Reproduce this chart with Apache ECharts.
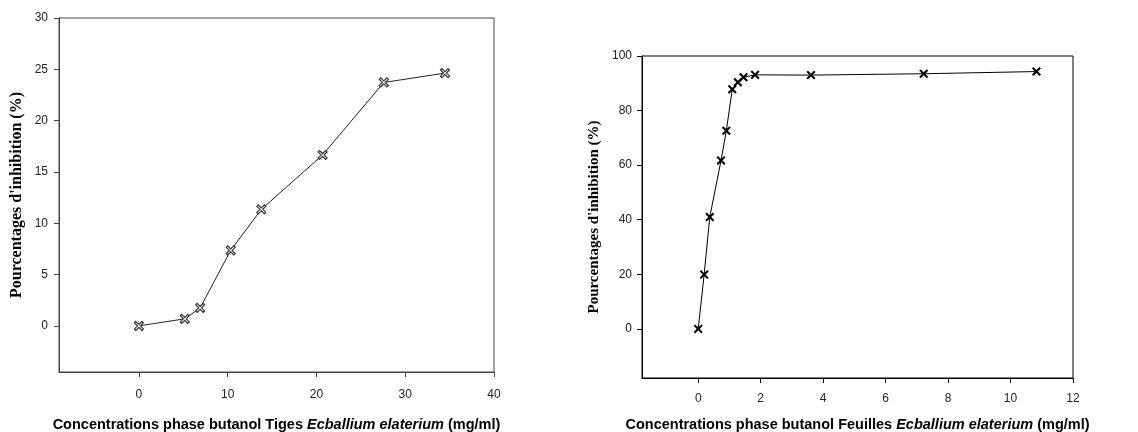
<!DOCTYPE html>
<html><head><meta charset="utf-8">
<script src="https://cdn.jsdelivr.net/npm/echarts@6/dist/echarts.min.js"></script>
<style>html,body{margin:0;padding:0;background:#fff}#c{width:1138px;height:432px}</style>
</head><body><div id="c"></div>
<script>
// Left chart: tiges
const tigesConc = [0, 5.17, 6.9, 10.34, 13.79, 20.69, 27.59, 34.48];
const tigesInhib = [0, 0.68, 1.75, 7.35, 11.35, 16.65, 23.72, 24.63];
const tigesYTicks = [0, 5, 10, 15, 20, 25, 30];
const tigesXTicks = [0, 10, 20, 30, 40];
// Right chart: feuilles
const feuillesConc = [0, 0.19, 0.37, 0.73, 0.9, 1.09, 1.27, 1.45, 1.82, 3.61, 7.22, 10.83];
const feuillesInhib = [0, 19.9, 41.0, 61.7, 72.6, 87.8, 90.4, 92.2, 93.1, 93.0, 93.5, 94.3];
const feuillesYTicks = [0, 20, 40, 60, 80, 100];
const feuillesXTicks = [0, 2, 4, 6, 8, 10, 12];

const xPath = 'path://M0,1.6 L1.6,0 L5,3.4 L8.4,0 L10,1.6 L6.6,5 L10,8.4 L8.4,10 L5,6.6 L1.6,10 L0,8.4 L3.4,5 Z';

function xTitle(word) {
  return {
    formatter: '{b|Concentrations phase butanol ' + word + ' }{i|Ecballium elaterium}{b| (mg/ml)}',
    rich: {
      b: {fontFamily: 'Liberation Sans', fontWeight: 'bold', fontSize: 14.5, color: '#000'},
      i: {fontFamily: 'Liberation Sans', fontWeight: 'bold', fontStyle: 'italic', fontSize: 14.5, color: '#000'}
    }
  };
}
const lbl = (m) => ({fontFamily: 'Liberation Sans', fontSize: 12, color: '#222', margin: m});

const chart = echarts.init(document.getElementById('c'), null, {renderer: 'canvas'});
const xt1 = xTitle('Tiges'), xt2 = xTitle('Feuilles');
chart.setOption({
  animation: false,
  backgroundColor: '#fff',
  grid: [
    {left: 59, top: 18, width: 435, height: 354, outerBoundsMode: 'none', containLabel: false,
     show: true, borderColor: '#444', borderWidth: 1, backgroundColor: 'transparent'},
    {left: 642, top: 56, width: 431, height: 322, outerBoundsMode: 'none', containLabel: false,
     show: true, borderColor: '#000', borderWidth: 1, backgroundColor: 'transparent'}
  ],
  xAxis: [
    {type: 'value', gridIndex: 0, min: -9, max: 40, splitLine: {show: false},
     axisLine: {show: true, onZero: false, lineStyle: {color: '#444'}},
     axisTick: {show: true, length: 5, lineStyle: {color: '#444'}, customValues: tigesXTicks},
     axisLabel: Object.assign(lbl(17), {customValues: tigesXTicks}),
     name: xt1.formatter, nameLocation: 'middle', nameGap: 45, nameTextStyle: {rich: xt1.rich}},
    {type: 'value', gridIndex: 1, min: -1.8, max: 12, splitLine: {show: false},
     axisLine: {show: true, onZero: false, lineStyle: {color: '#000'}},
     axisTick: {show: true, length: 5, lineStyle: {color: '#000'}, customValues: feuillesXTicks},
     axisLabel: Object.assign(lbl(15), {customValues: feuillesXTicks}),
     name: xt2.formatter, nameLocation: 'middle', nameGap: 39, nameTextStyle: {rich: xt2.rich}}
  ],
  yAxis: [
    {type: 'value', gridIndex: 0, min: -4.5, max: 30, splitLine: {show: false},
     axisLine: {show: true, onZero: false, lineStyle: {color: '#444'}},
     axisTick: {show: true, length: 5, lineStyle: {color: '#444'}, customValues: tigesYTicks},
     axisLabel: Object.assign(lbl(11), {customValues: tigesYTicks}),
     name: "Pourcentages d'inhibition (%)", nameLocation: 'middle', nameGap: 34,
     nameTextStyle: {fontFamily: 'Liberation Serif', fontWeight: 'bold', fontSize: 16, color: '#000'}},
    {type: 'value', gridIndex: 1, min: -18, max: 100, splitLine: {show: false},
     axisLine: {show: true, onZero: false, lineStyle: {color: '#000'}},
     axisTick: {show: true, length: 5, lineStyle: {color: '#000'}, customValues: feuillesYTicks},
     axisLabel: Object.assign(lbl(10), {customValues: feuillesYTicks}),
     name: "Pourcentages d'inhibition (%)", nameLocation: 'middle', nameGap: 40,
     nameTextStyle: {fontFamily: 'Liberation Serif', fontWeight: 'bold', fontSize: 15, color: '#000'}}
  ],
  series: [
    {type: 'line', xAxisIndex: 0, yAxisIndex: 0,
     data: tigesConc.map((x, i) => [x, tigesInhib[i]]),
     lineStyle: {color: '#222', width: 1}, symbol: xPath, symbolSize: 9,
     itemStyle: {color: '#fff', borderColor: '#333', borderWidth: 1.2}},
    {type: 'line', xAxisIndex: 1, yAxisIndex: 1,
     data: feuillesConc.map((x, i) => [x, feuillesInhib[i]]),
     lineStyle: {color: '#000', width: 1}, symbol: xPath, symbolSize: 9,
     itemStyle: {color: '#000', borderWidth: 0}}
  ]
});
</script></body></html>
